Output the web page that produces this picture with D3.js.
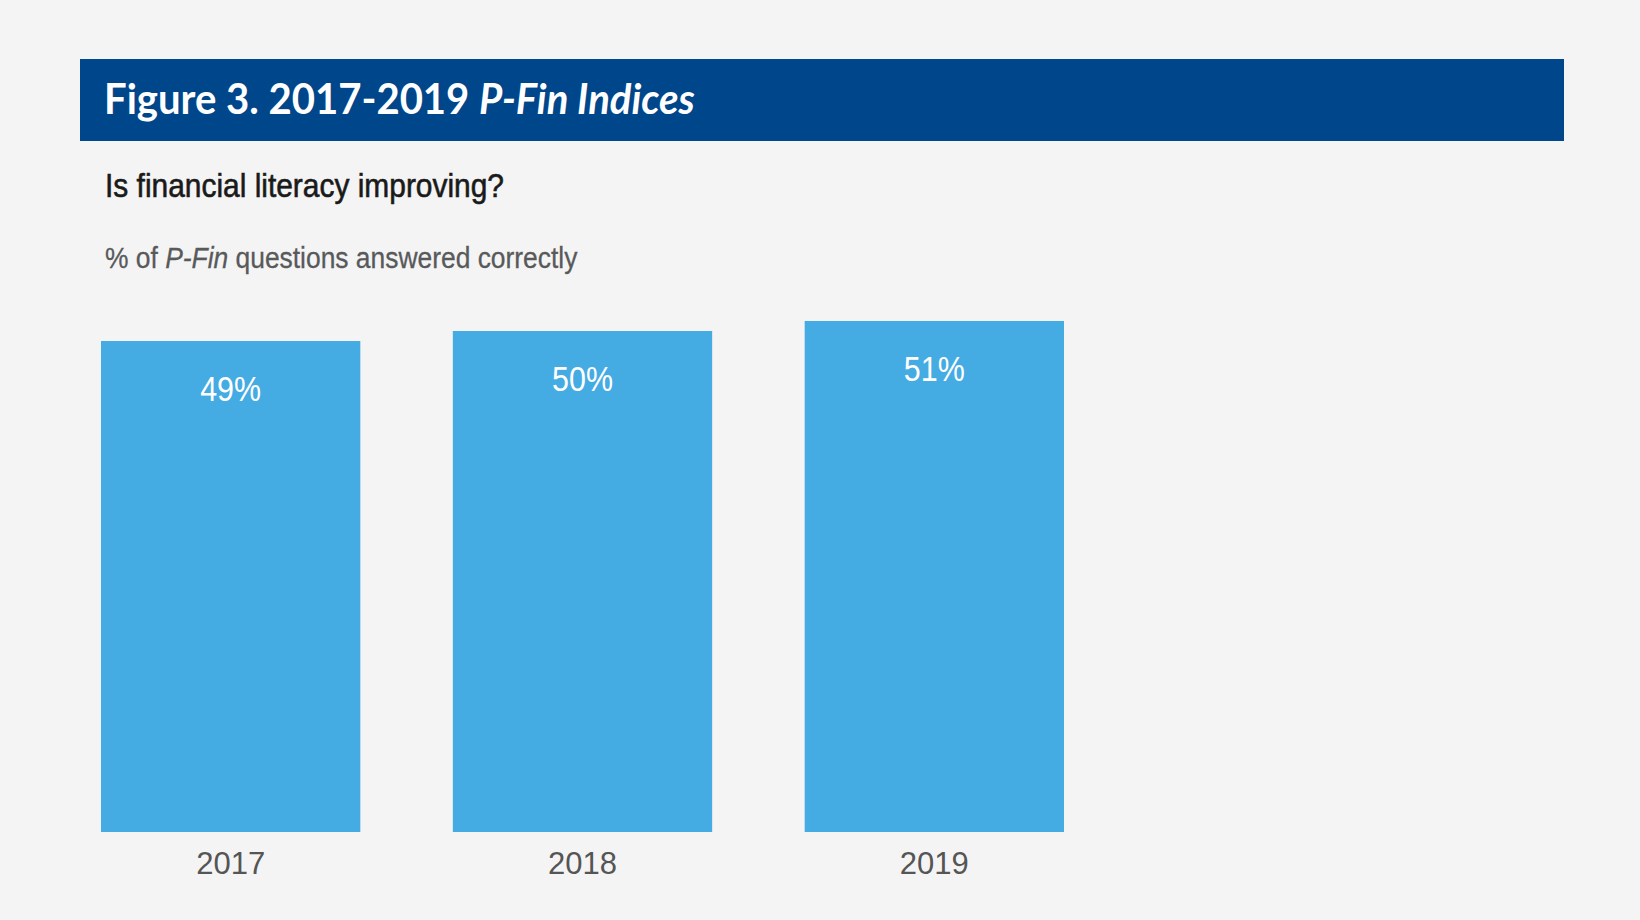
<!DOCTYPE html>
<html>
<head>
<meta charset="utf-8">
<script src="https://cdn.jsdelivr.net/npm/d3@7"></script>
<style>
  body { margin: 0; background: #f4f4f4; }
</style>
</head>
<body>
<script>
// data
var years = ['2017', '2018', '2019'];
var values = [49, 50, 51];
var valueLabels = ['49%', '50%', '51%'];

var w = 1640;
var h = 920;

var svg = d3.select('body')
  .append('svg')
  .attr('width', w)
  .attr('height', h);

svg.append('rect')
  .attr('width', w)
  .attr('height', h)
  .attr('fill', '#f4f4f4');

// header band
svg.append('rect')
  .attr('x', 80)
  .attr('y', 59)
  .attr('width', 1484)
  .attr('height', 82)
  .attr('fill', '#00468a');

var title = svg.append('text')
  .attr('font-family', 'Lato, "Open Sans", sans-serif')
  .attr('font-weight', 'bold')
  .attr('font-size', 42)
  .attr('fill', '#fff');
title.append('tspan').text('Figure 3. 2017-2019 ');
title.append('tspan').attr('font-style', 'italic').text('P-Fin Indices');
// fit to the width of the original lettering
var titleW = title.node().getComputedTextLength();
title.attr('transform', 'translate(104,114) scale(' + (591 / titleW) + ',1)');

// condensed looking text: squeeze a normal face horizontally
var squeeze = 0.88;

svg.append('text')
  .attr('transform', 'translate(105,196.5) scale(' + squeeze + ',1)')
  .attr('font-family', '"Liberation Sans", Arial, sans-serif')
  .attr('font-size', 34)
  .attr('fill', '#1a1a1a')
  .attr('stroke', '#1a1a1a')
  .attr('stroke-width', 0.6)
  .text('Is financial literacy improving?');

var sub = svg.append('text')
  .attr('transform', 'translate(105,268) scale(' + squeeze + ',1)')
  .attr('font-family', '"Liberation Sans", Arial, sans-serif')
  .attr('font-size', 30)
  .attr('fill', '#58595b')
  .attr('stroke', '#58595b')
  .attr('stroke-width', 0.3);
sub.append('tspan').text('% of ');
sub.append('tspan').attr('font-style', 'italic').text('P-Fin');
sub.append('tspan').text(' questions answered correctly');

// scales
var x = d3.scaleBand()
  .domain(years)
  .range([101, 1064])
  .paddingInner(0.263)
  .paddingOuter(0);

var y = d3.scaleLinear()
  .domain([0, 100])
  .range([832, -170]);

svg.selectAll('rect.bar')
  .data(values)
  .enter()
  .append('rect')
  .attr('class', 'bar')
  .attr('x', function(d, i) { return x(years[i]); })
  .attr('y', function(d) { return y(d); })
  .attr('width', x.bandwidth())
  .attr('height', function(d) { return y(0) - y(d); })
  .attr('fill', '#45abe3');

svg.selectAll('text.val')
  .data(values)
  .enter()
  .append('text')
  .attr('class', 'val')
  .attr('transform', function(d, i) {
    return 'translate(' + (x(years[i]) + x.bandwidth() / 2) + ',' + (y(d) + 60) + ') scale(0.87,1)';
  })
  .attr('text-anchor', 'middle')
  .attr('font-family', '"Liberation Sans", Arial, sans-serif')
  .attr('font-size', 35)
  .attr('fill', '#fff')
  .text(function(d, i) { return valueLabels[i]; });

// year labels under the bars
var axis = svg.append('g')
  .attr('transform', 'translate(0,' + y(0) + ')')
  .call(d3.axisBottom(x).tickSize(0).tickPadding(20));

axis.select('.domain').remove();
axis.selectAll('text')
  .attr('font-family', '"Liberation Sans", Arial, sans-serif')
  .attr('font-size', 31)
  .attr('fill', '#555');
</script>
</body>
</html>
